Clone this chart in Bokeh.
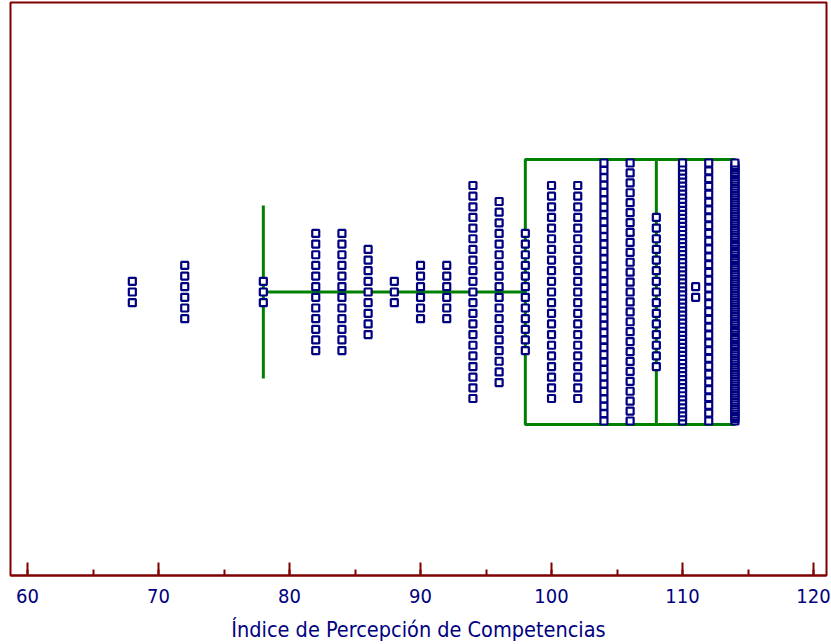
import numpy as np
from bokeh.plotting import figure
from bokeh.models import Range1d, SingleIntervalTicker, ColumnDataSource
from bokeh.embed import file_html
from bokeh.resources import INLINE

# ---- data ----
scores = [68, 72, 78, 82, 84, 86, 88, 90, 92, 94, 96, 98, 100, 102, 104, 106, 108, 110, 111, 112, 114]
counts = [3, 6, 3, 12, 12, 9, 3, 6, 6, 21, 18, 12, 21, 21, 36, 27, 15, 65, 2, 34, 112]

box_q1 = [98]
box_median = [108]
box_q3 = [114]
whisker_low = [78]
whisker_high = [114]

x_label = "Índice de Percepción de Competencias"

# ---- layout constants (pixel-like vertical units) ----
STEP = 10.65       # vertical spacing of stacked points
MAX_SPAN = 258     # maximum height of a stack
BOX_HALF = 132.5
CAP_HALF = 86.5

NAVY = "#000080"
GREEN = "#008000"
MAROON = "#800000"
FONT = "'DejaVu Sans Condensed', 'Liberation Sans', sans-serif"

xs, ys = [], []
for s, n in zip(scores, counts):
    step = min(STEP, MAX_SPAN / (n - 1)) if n > 1 else 0
    for i in range(n):
        xs.append(s)
        ys.append((i - (n - 1) / 2) * step)

p = figure(width=831, height=644, output_backend="svg", toolbar_location=None,
           x_range=Range1d(58.70, 120.99), y_range=Range1d(-283.5, 289.5),
           y_axis_location=None, min_border_left=10, min_border_right=5,
           min_border_top=2, min_border_bottom=0)
p.grid.visible = False
p.outline_line_color = MAROON
p.outline_line_width = 2
p.background_fill_color = "white"
p.border_fill_color = "white"

# box
box_src = ColumnDataSource(dict(q1=box_q1, med=box_median, q3=box_q3, lo=whisker_low, hi=whisker_high))
p.quad(left="q1", right="q3", bottom=-BOX_HALF, top=BOX_HALF, source=box_src,
       fill_color=None, line_color=GREEN, line_width=3)
p.segment(x0="med", y0=-BOX_HALF, x1="med", y1=BOX_HALF, source=box_src, line_color=GREEN, line_width=3)
p.segment(x0="lo", y0=0, x1="q1", y1=0, source=box_src, line_color=GREEN, line_width=3)
p.segment(x0="q3", y0=0, x1="hi", y1=0, source=box_src, line_color=GREEN, line_width=3)
p.segment(x0="lo", y0=-CAP_HALF, x1="lo", y1=CAP_HALF, source=box_src, line_color=GREEN, line_width=3)

# points
p.scatter(xs, ys, marker="square", size=7, fill_color="white", line_color=NAVY, line_width=2.2)

ax = p.xaxis[0]
ax.ticker = SingleIntervalTicker(interval=10, num_minor_ticks=2)
ax.axis_line_color = MAROON
ax.axis_line_width = 2
ax.major_tick_line_color = MAROON
ax.major_tick_line_width = 2
ax.minor_tick_line_color = MAROON
ax.minor_tick_line_width = 2
ax.major_tick_in = 13
ax.major_tick_out = 0
ax.minor_tick_in = 6
ax.minor_tick_out = 0
ax.major_label_text_color = NAVY
ax.major_label_text_font = FONT
ax.major_label_text_font_size = "20px"
ax.major_label_standoff = 13
ax.axis_label = x_label
ax.axis_label_text_color = NAVY
ax.axis_label_text_font = FONT
ax.axis_label_text_font_size = "21.5px"
ax.axis_label_text_font_style = "normal"
ax.axis_label_standoff = 11

open("out.html", "w").write(file_html(p, INLINE))
